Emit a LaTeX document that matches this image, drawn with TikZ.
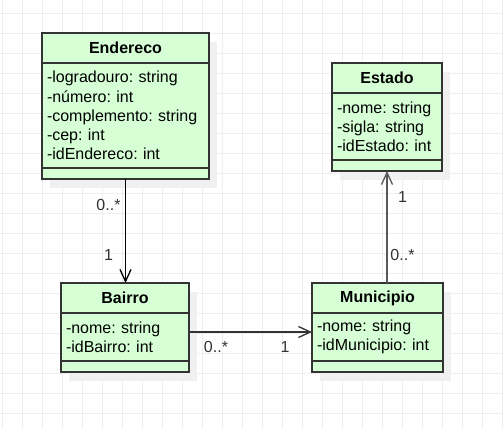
\documentclass[tikz,border=0pt]{standalone}
\usepackage{fontspec}
\setmainfont{Liberation Sans}
\frenchspacing
\usetikzlibrary{positioning,arrows.meta,shadows}
\definecolor{umlfill}{RGB}{214,255,214}
\definecolor{umlline}{RGB}{51,51,51}
\definecolor{gridcol}{RGB}{238,238,238}
\tikzset{
  clsname/.style={draw=umlline, line width=1.3pt, fill=umlfill, anchor=north west,
    minimum height=30pt, inner sep=0pt, outer sep=0pt,
    font=\fontsize{16}{19.2}\selectfont\bfseries,
    drop shadow={shadow xshift=8pt, shadow yshift=-9pt, fill=black!6, opacity=1}},
  clsattr/.style={draw=umlline, line width=1.3pt, fill=umlfill, align=left,
    inner xsep=5pt, inner ysep=0pt, outer sep=0pt,
    font=\fontsize{16}{19.2}\selectfont\frenchspacing,
    drop shadow={shadow xshift=8pt, shadow yshift=-9pt, fill=black!6, opacity=1}},
  clsmeth/.style={draw=umlline, line width=1.3pt, fill=umlfill,
    minimum height=11pt, inner sep=0pt, outer sep=0pt,
    drop shadow={shadow xshift=8pt, shadow yshift=-9pt, fill=black!6, opacity=1}},
  assoc/.style={line width=1.3pt, -{Straight Barb[length=12pt, width=11pt]}},
  mult/.style={inner sep=0pt, text=umlline, font=\fontsize{16}{19.2}\selectfont}
}
\begin{document}
\begin{tikzpicture}[x=1pt, y=-1pt]
  \fill[white] (0,0) rectangle (503,429);
  \useasboundingbox (0,0) rectangle (503,429);
  % grid
  \foreach \gx in {0,...,25} \draw[gridcol, line width=1pt] (2.7+20*\gx,0) -- (2.7+20*\gx,429);
  \foreach \gy in {0,...,20} \draw[gridcol, line width=1pt] (0,13+20*\gy) -- (503,13+20*\gy);

  % Endereco
  \node[clsname, minimum width=167pt] (endH) at (42,33) {Endereco};
  \node[clsattr, text width=157pt, minimum height=105pt, below=0pt of endH] (endA)
    {-logradouro: string\\-número: int\\-complemento: string\\-cep: int\\-idEndereco: int};
  \node[clsmeth, minimum width=167pt, below=0pt of endA] (endM) {};

  % Estado
  \node[clsname, minimum width=110pt] (estH) at (332,63) {Estado};
  \node[clsattr, text width=100pt, minimum height=67pt, below=0pt of estH] (estA)
    {-nome: string\\-sigla: string\\-idEstado: int};
  \node[clsmeth, minimum width=110pt, below=0pt of estA] (estM) {};

  % Bairro
  \node[clsname, minimum width=128pt] (baiH) at (61,283) {Bairro};
  \node[clsattr, text width=118pt, minimum height=48pt, below=0pt of baiH] (baiA)
    {-nome: string\\-idBairro: int};
  \node[clsmeth, minimum width=128pt, below=0pt of baiA] (baiM) {};

  % Municipio
  \node[clsname, minimum width=131pt] (munH) at (312,283) {Municipio};
  \node[clsattr, text width=121pt, minimum height=48pt, below=0pt of munH] (munA)
    {-nome: string\\-idMunicipio: int};
  \node[clsmeth, minimum width=131pt, below=0pt of munA] (munM) {};

  % associations
  \coordinate (baiOut) at ([yshift=5pt]baiA.east);
  \draw[assoc, draw=black] (endM.south) -- (endM.south |- baiH.north);
  \draw[assoc, draw=umlline] (baiOut) -- (baiOut -| munA.west);
  \draw[assoc, draw=black!65] (estM.south |- munH.north) -- (estM.south);

  \node[mult] (m1) at (108.5,205) {0..*};
  \node[mult] (m2) at (108.5,255) {1};
  \node[mult] (m3) at (216,347) {0..*};
  \node[mult] (m4) at (285,347) {1};
  \node[mult] (m5) at (402.5,197) {1};
  \node[mult] (m6) at (402.5,255) {0..*};
\end{tikzpicture}
\end{document}
